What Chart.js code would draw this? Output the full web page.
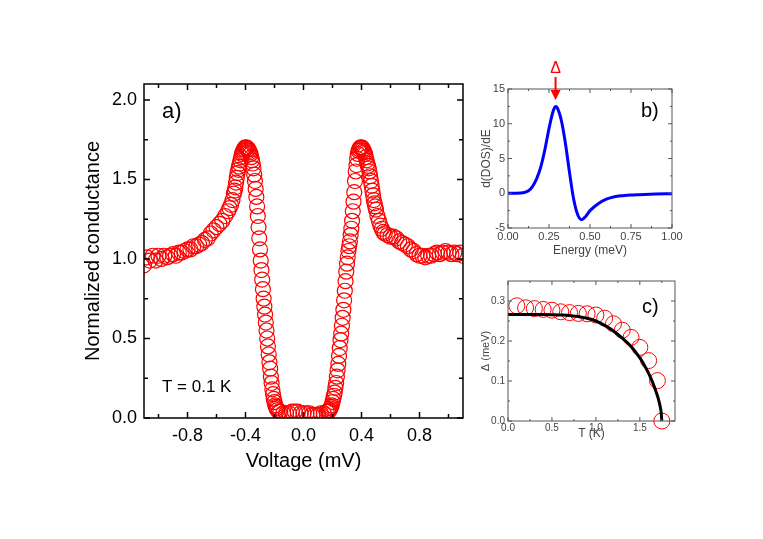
<!DOCTYPE html>
<html>
<head>
<meta charset="utf-8">
<title>Tunnelling conductance</title>
<script src="https://cdn.jsdelivr.net/npm/chart.js@4.4.1/dist/chart.umd.min.js"></script>
<style>
  html, body { margin: 0; padding: 0; background: #fff; }
  body { width: 763px; height: 539px; position: relative; overflow: hidden; }
  .panel { position: absolute; }
  #wrapA { left: 0; top: 0; width: 480px; height: 539px; }
  #wrapB { left: 470px; top: 40px; width: 293px; height: 230px; }
  #wrapC { left: 470px; top: 260px; width: 293px; height: 200px; }
</style>
</head>
<body>
<div class="panel" id="wrapA"><canvas id="chartA"></canvas></div>
<div class="panel" id="wrapB"><canvas id="chartB"></canvas></div>
<div class="panel" id="wrapC"><canvas id="chartC"></canvas></div>
<script>
// Panel a) normalized conductance vs bias voltage at T = 0.1 K
const voltage = [
  -1.10, -1.08, -1.06, -1.04, -1.02, -1.00, -0.98, -0.96, -0.94, -0.92,
  -0.90, -0.88, -0.86, -0.84, -0.82, -0.80, -0.78, -0.76, -0.74, -0.72,
  -0.70, -0.68, -0.66, -0.64, -0.62, -0.60, -0.58, -0.56, -0.54, -0.52,
  -0.51, -0.50, -0.49, -0.48, -0.475, -0.47, -0.465, -0.46, -0.455, -0.45,
  -0.445, -0.44, -0.435, -0.43, -0.425, -0.42, -0.415, -0.41, -0.405, -0.40,
  -0.395, -0.39, -0.385, -0.38, -0.375, -0.37, -0.365, -0.36, -0.355, -0.35,
  -0.345, -0.34, -0.335, -0.33, -0.325, -0.32, -0.315, -0.31, -0.305, -0.30,
  -0.295, -0.29, -0.285, -0.28, -0.275, -0.27, -0.265, -0.26, -0.255, -0.25,
  -0.245, -0.24, -0.235, -0.23, -0.225, -0.22, -0.215, -0.21, -0.205, -0.20,
  -0.195, -0.19, -0.185, -0.18, -0.17,
  -0.16, -0.14, -0.12, -0.10, -0.08, -0.06, -0.04, -0.02, 0.00, 0.02,
  0.04, 0.06, 0.08, 0.10, 0.12, 0.14, 0.16,
  0.17, 0.175, 0.18, 0.185, 0.19, 0.195, 0.20, 0.205, 0.21, 0.215,
  0.22, 0.225, 0.23, 0.235, 0.24, 0.245, 0.25, 0.255, 0.26, 0.265,
  0.27, 0.275, 0.28, 0.285, 0.29, 0.295, 0.30, 0.305, 0.31, 0.315,
  0.32, 0.325, 0.33, 0.335, 0.34, 0.345, 0.35, 0.355, 0.36, 0.365,
  0.37, 0.375, 0.38, 0.385, 0.39, 0.395, 0.40, 0.405, 0.41, 0.415,
  0.42, 0.425, 0.43, 0.435, 0.44, 0.445, 0.45, 0.455, 0.46, 0.465,
  0.47, 0.475, 0.48, 0.485, 0.49, 0.495, 0.50, 0.51, 0.52, 0.53, 0.54, 0.55,
  0.56, 0.58, 0.60, 0.62, 0.64, 0.66, 0.68, 0.70, 0.72, 0.74,
  0.76, 0.78, 0.80, 0.82, 0.84, 0.86, 0.88, 0.90, 0.92, 0.94,
  0.96, 0.98, 1.00, 1.02, 1.04, 1.06, 1.08, 1.10
];
const conductance = [
  0.96, 1.01, 0.99, 1.02, 0.99, 1.02, 1.00, 1.02, 1.01, 1.02,
  1.03, 1.02, 1.04, 1.04, 1.05, 1.06, 1.06, 1.08, 1.08, 1.09,
  1.10, 1.12, 1.13, 1.16, 1.18, 1.20, 1.22, 1.24, 1.27, 1.30,
  1.32, 1.34, 1.37, 1.41, 1.43, 1.45, 1.48, 1.51, 1.54, 1.56,
  1.58, 1.60, 1.62, 1.64, 1.66, 1.67, 1.68, 1.69, 1.70, 1.70,
  1.70, 1.70, 1.69, 1.69, 1.68, 1.67, 1.66, 1.64, 1.62, 1.60,
  1.57, 1.53, 1.49, 1.44, 1.39, 1.33, 1.27, 1.20, 1.13, 1.06,
  0.99, 0.93, 0.87, 0.81, 0.75, 0.70, 0.65, 0.60, 0.55, 0.50,
  0.45, 0.40, 0.35, 0.31, 0.26, 0.22, 0.18, 0.15, 0.12, 0.10,
  0.08, 0.07, 0.06, 0.05, 0.04,
  0.04, 0.03, 0.03, 0.03, 0.04, 0.04, 0.04, 0.03, 0.03, 0.03,
  0.03, 0.02, 0.02, 0.02, 0.03, 0.03, 0.04,
  0.04, 0.045, 0.05, 0.06, 0.07, 0.08, 0.10, 0.12, 0.14, 0.16,
  0.19, 0.22, 0.26, 0.30, 0.34, 0.39, 0.44, 0.49, 0.53, 0.58,
  0.63, 0.68, 0.74, 0.80, 0.86, 0.92, 0.97, 1.01, 1.05, 1.08,
  1.11, 1.15, 1.19, 1.24, 1.30, 1.36, 1.42, 1.49, 1.55, 1.59,
  1.63, 1.66, 1.68, 1.69, 1.70, 1.70, 1.70, 1.70, 1.69, 1.68,
  1.67, 1.66, 1.64, 1.62, 1.60, 1.585, 1.57, 1.55, 1.52, 1.49,
  1.46, 1.43, 1.40, 1.37, 1.35, 1.33, 1.31, 1.27, 1.24, 1.21, 1.19, 1.17,
  1.16, 1.15, 1.14, 1.14, 1.13, 1.11, 1.10, 1.09, 1.08, 1.06,
  1.05, 1.03, 1.02, 1.02, 1.01, 1.02, 1.02, 1.03, 1.04, 1.03,
  1.04, 1.05, 1.04, 1.03, 1.04, 1.03, 1.04, 1.02
];
const voltageTicks = [-0.8, -0.4, 0, 0.4, 0.8];
const voltageMinor = [-1.0, -0.6, -0.2, 0.2, 0.6, 1.0];
const conductanceTicks = [0, 0.5, 1.0, 1.5, 2.0];
const conductanceMinor = [0.25, 0.75, 1.25, 1.75];

// Panel b) derivative of the density of states
const energy = [0, 0.05, 0.10, 0.125, 0.15, 0.175, 0.20, 0.225, 0.25, 0.275,
  0.29, 0.30, 0.325, 0.35, 0.375, 0.40, 0.425, 0.45, 0.475, 0.50,
  0.55, 0.60, 0.65, 0.70, 0.75, 0.80, 0.90, 1.00];
const dosSlope = [0, 0, 0.1, 0.35, 1.0, 2.1, 3.8, 6.3, 9.3, 11.8,
  12.5, 12.3, 10.5, 7.2, 3.0, -0.8, -3.1, -3.8, -3.3, -2.5,
  -1.5, -0.85, -0.5, -0.35, -0.25, -0.2, -0.12, -0.07];
const gapEnergy = 0.29;
const energyTicks = [0, 0.25, 0.5, 0.75, 1.0];
const energyMinor = [0.125, 0.375, 0.625, 0.875];
const slopeTicks = [-5, 0, 5, 10, 15];
const slopeMinor = [-2.5, 2.5, 7.5, 12.5];

// Panel c) gap vs temperature, measured points and BCS fit
const gapTemp = [0.1, 0.2, 0.3, 0.4, 0.5, 0.6, 0.7, 0.8, 0.9, 1.0,
  1.1, 1.2, 1.3, 1.4, 1.5, 1.6, 1.7, 1.75];
const gapValue = [0.288, 0.283, 0.281, 0.279, 0.277, 0.273, 0.271, 0.269, 0.268, 0.265,
  0.257, 0.243, 0.227, 0.209, 0.184, 0.151, 0.101, 0.0];
const fitTemp = [0, 0.2, 0.4, 0.6, 0.7, 0.8, 0.9, 1.0, 1.1, 1.2,
  1.3, 1.4, 1.5, 1.55, 1.6, 1.65, 1.7, 1.72, 1.74, 1.75];
const fitGap = [0.266, 0.266, 0.266, 0.265, 0.264, 0.261, 0.257, 0.250, 0.239, 0.225,
  0.207, 0.186, 0.158, 0.140, 0.119, 0.094, 0.063, 0.047, 0.026, 0.0];
const tempTicks = [0, 0.5, 1.0, 1.5];
const tempMinor = [0.25, 0.75, 1.25, 1.75];
const gapTicks = [0, 0.1, 0.2, 0.3];
const gapMinor = [0.05, 0.15, 0.25];

const FONT = '"Liberation Sans", Arial, Helvetica, sans-serif';
Chart.defaults.font.family = FONT;
Chart.defaults.animation = false;

function toPoints(xs, ys) {
  return xs.map((x, i) => ({ x: x, y: ys[i] }));
}

// Origin style frame: closed box with inward ticks on all four sides
function framePlugin(xMinor, yMinor, color, width, majorLen, minorLen) {
  return {
    id: 'frame',
    afterDatasetsDraw(chart) {
      const ctx = chart.ctx;
      const a = chart.chartArea;
      const xs = chart.scales.x;
      const ys = chart.scales.y;
      ctx.save();
      ctx.strokeStyle = color;
      ctx.lineWidth = width;
      ctx.beginPath();
      const xTick = (v, len) => {
        const p = xs.getPixelForValue(v);
        ctx.moveTo(p, a.bottom); ctx.lineTo(p, a.bottom - len);
        ctx.moveTo(p, a.top); ctx.lineTo(p, a.top + len);
      };
      const yTick = (v, len) => {
        const p = ys.getPixelForValue(v);
        ctx.moveTo(a.left, p); ctx.lineTo(a.left + len, p);
        ctx.moveTo(a.right, p); ctx.lineTo(a.right - len, p);
      };
      xs.ticks.forEach(t => xTick(t.value, majorLen));
      xMinor.forEach(v => xTick(v, minorLen));
      ys.ticks.forEach(t => yTick(t.value, majorLen));
      yMinor.forEach(v => yTick(v, minorLen));
      ctx.stroke();
      ctx.strokeRect(a.left, a.top, a.right - a.left, a.bottom - a.top);
      ctx.restore();
    }
  };
}

// Free text labels placed relative to the plot area
function notesPlugin(items) {
  return {
    id: 'notes',
    afterDraw(chart) {
      const ctx = chart.ctx;
      const a = chart.chartArea;
      ctx.save();
      items.forEach(n => {
        ctx.font = n.font;
        ctx.fillStyle = n.color || '#000';
        ctx.textAlign = n.align || 'left';
        ctx.textBaseline = 'middle';
        ctx.fillText(n.text, a.left + n.dx, a.top + n.dy);
      });
      ctx.restore();
    }
  };
}

function axis(opts) {
  return {
    type: 'linear',
    position: opts.position,
    min: opts.min,
    max: opts.max,
    grid: { display: false, drawTicks: false },
    border: { display: false },
    afterBuildTicks: (scale) => { scale.ticks = opts.ticks.map(v => ({ value: v })); },
    afterFit: (scale) => {
      if (opts.position === 'bottom') scale.height = opts.size;
      else scale.width = opts.size;
    },
    ticks: {
      autoSkip: false,
      maxRotation: 0,
      padding: opts.tickPad,
      color: opts.color,
      font: { size: opts.tickSize },
      callback: opts.format
    },
    title: {
      display: true,
      text: opts.title,
      color: opts.color,
      padding: 0,
      font: { size: opts.titleSize }
    }
  };
}

// ---- panel a)
new Chart(document.getElementById('chartA'), {
  type: 'scatter',
  data: {
    datasets: [{
      data: toPoints(voltage, conductance),
      showLine: false,
      pointRadius: 7.5,
      pointBorderWidth: 1.2,
      pointBorderColor: '#ff0000',
      pointBackgroundColor: 'rgba(255,255,255,0)',
      clip: 0
    }]
  },
  options: {
    responsive: true,
    maintainAspectRatio: false,
    layout: { padding: { left: 81, top: 84, right: 17, bottom: 66 } },
    plugins: { legend: { display: false }, tooltip: { enabled: false } },
    scales: {
      x: axis({ position: 'bottom', min: -1.1, max: 1.1, ticks: voltageTicks, size: 55,
        tickPad: 7, tickSize: 18, titleSize: 20, color: '#000',
        title: 'Voltage (mV)', format: v => v.toFixed(1) }),
      y: axis({ position: 'left', min: 0, max: 2.1, ticks: conductanceTicks, size: 63,
        tickPad: 7, tickSize: 18, titleSize: 20, color: '#000',
        title: 'Normalized conductance', format: v => v.toFixed(1) })
    }
  },
  plugins: [
    framePlugin(voltageMinor, conductanceMinor, '#000', 1.5, 6, 4),
    notesPlugin([
      { text: 'a)', dx: 18, dy: 28, font: '22px ' + FONT },
      { text: 'T = 0.1 K', dx: 18, dy: 303, font: '17px ' + FONT }
    ])
  ]
});

// ---- panel b)
const gapArrow = {
  id: 'gapArrow',
  afterDraw(chart) {
    const ctx = chart.ctx;
    const a = chart.chartArea;
    const px = chart.scales.x.getPixelForValue(gapEnergy);
    ctx.save();
    ctx.strokeStyle = '#ff0000';
    ctx.fillStyle = '#ff0000';
    ctx.lineWidth = 2;
    ctx.beginPath();
    ctx.moveTo(px, a.top - 12);
    ctx.lineTo(px, a.top + 4);
    ctx.stroke();
    ctx.beginPath();
    ctx.moveTo(px - 5, a.top + 1);
    ctx.lineTo(px + 5, a.top + 1);
    ctx.lineTo(px, a.top + 11);
    ctx.closePath();
    ctx.fill();
    ctx.font = '16px ' + FONT;
    ctx.textAlign = 'center';
    ctx.textBaseline = 'middle';
    ctx.fillText('\u0394', px, a.top - 20);
    ctx.restore();
  }
};

new Chart(document.getElementById('chartB'), {
  type: 'scatter',
  data: {
    datasets: [{
      data: toPoints(energy, dosSlope),
      showLine: true,
      borderColor: '#0000ff',
      borderWidth: 3,
      pointRadius: 0,
      cubicInterpolationMode: 'monotone'
    }]
  },
  options: {
    responsive: true,
    maintainAspectRatio: false,
    layout: { padding: { left: 9, top: 49, right: 91, bottom: 12 } },
    plugins: { legend: { display: false }, tooltip: { enabled: false } },
    scales: {
      x: axis({ position: 'bottom', min: 0, max: 1, ticks: energyTicks, size: 30,
        tickPad: 2, tickSize: 11, titleSize: 12, color: '#444',
        title: 'Energy (meV)', format: v => v.toFixed(2) }),
      y: axis({ position: 'left', min: -5, max: 15, ticks: slopeTicks, size: 29,
        tickPad: 3, tickSize: 11, titleSize: 12, color: '#444',
        title: 'd(DOS)/dE', format: v => String(v) })
    }
  },
  plugins: [
    framePlugin(energyMinor, slopeMinor, '#555', 1, 4, 2),
    gapArrow,
    notesPlugin([{ text: 'b)', dx: 133, dy: 22, font: '20px ' + FONT }])
  ]
});

// ---- panel c)
new Chart(document.getElementById('chartC'), {
  type: 'scatter',
  data: {
    datasets: [
      {
        data: toPoints(fitTemp, fitGap),
        showLine: true,
        borderColor: '#000',
        borderWidth: 3,
        pointRadius: 0,
        tension: 0.4,
        order: 0,
        clip: false
      },
      {
        data: toPoints(gapTemp, gapValue),
        showLine: false,
        pointRadius: 8,
        pointBorderWidth: 1,
        pointBorderColor: '#ff0000',
        pointBackgroundColor: 'rgba(255,255,255,0)',
        order: 1,
        clip: false
      }
    ]
  },
  options: {
    responsive: true,
    maintainAspectRatio: false,
    layout: { padding: { left: 9, top: 21, right: 88, bottom: 19 } },
    plugins: { legend: { display: false }, tooltip: { enabled: false } },
    scales: {
      x: axis({ position: 'bottom', min: 0, max: 1.9, ticks: tempTicks, size: 20,
        tickPad: 1, tickSize: 10, titleSize: 12, color: '#444',
        title: 'T (K)', format: v => v.toFixed(1) }),
      y: axis({ position: 'left', min: 0, max: 0.35, ticks: gapTicks, size: 29,
        tickPad: 3, tickSize: 10, titleSize: 11, color: '#444',
        title: '\u0394 (meV)', format: v => v.toFixed(1) })
    }
  },
  plugins: [
    framePlugin(tempMinor, gapMinor, '#555', 1, 4, 2),
    notesPlugin([{ text: 'c)', dx: 134, dy: 26, font: '20px ' + FONT }])
  ]
});
</script>
</body>
</html>
